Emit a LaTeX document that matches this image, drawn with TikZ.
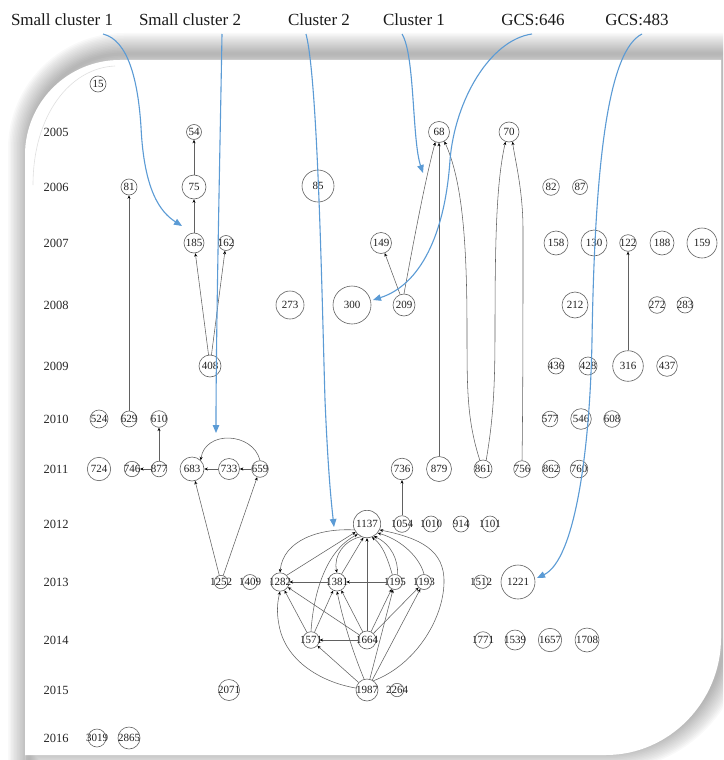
\documentclass[tikz,border=0pt]{standalone}
\usepackage{fontspec}
\setmainfont{Liberation Serif}
\usetikzlibrary{arrows.meta}
\definecolor{cblue}{RGB}{91,155,213}
\newcommand\mynode[5]{\node[nd, minimum size=#4*2pt] (#1) at (#2,#3) {\makebox[0pt]{#5}};}
\def\panelpath{(25,800) -- (25,155) .. controls (25,102.5) and (67.5,60) .. (120,60) -- (721,60) -- (721,638) .. controls (721,701.5) and (669.5,755) .. (606,755) -- (25,755) -- cycle}
\begin{document}
\begin{tikzpicture}[x=1pt,y=-1pt,
  nd/.style={circle, draw=black!62, line width=0.6pt, inner sep=0pt, text=black!88, font=\fontsize{11}{11}\selectfont},
  yr/.style={font=\fontsize{12.5}{12.5}\selectfont, text=black!85, inner sep=0pt},
  lab/.style={font=\fontsize{17}{17}\selectfont, text=black!90, inner sep=0pt},
  e/.style={draw=black!62, line width=0.55pt, -{Stealth[length=3.5pt,width=3pt,black]}},
  bl/.style={draw=cblue, line width=1.1pt, -{Triangle[length=8pt,width=6.5pt]}}]
\useasboundingbox (0,0) rectangle (723,760);
\clip (0,0) rectangle (723,760);
% panel with shadow
\foreach \i in {1,...,14} {
  \draw[black, opacity=0.024, line width=\i*3pt, line join=round, shift={(4,-6)}] \panelpath;
}
\fill[white] \panelpath;
\draw[black!12, line width=0.6pt] (33,185) .. controls (33,115) and (70,68) .. (115,66);

% top labels
\node[lab] (l1) at (62,20) {Small cluster 1};
\node[lab] (l2) at (190,20) {Small cluster 2};
\node[lab] (l3) at (319,20) {Cluster 2};
\node[lab] (l4) at (414,20) {Cluster 1};
\node[lab] (l5) at (533,20) {GCS:646};
\node[lab] (l6) at (637,20) {GCS:483};

% years
\foreach \yy/\py in {2005/132,2006/187,2007/243,2008/305,2009/366,2010/419,2011/469,2012/524,2013/582,2014/640,2015/690,2016/738}
  \node[yr] (y\yy) at (56,\py) {\yy};

% nodes
\mynode{n15}{98}{84}{8}{15}
\mynode{n54}{194}{132}{7.5}{54}
\mynode{n68}{439}{132}{10.5}{68}
\mynode{n70}{509}{132}{10}{70}
\mynode{n81}{129}{187}{8}{81}
\mynode{n75}{194}{187}{12}{75}
\mynode{n85}{318}{186}{16}{85}
\mynode{n82}{551}{187}{8.3}{82}
\mynode{n87}{580}{187}{7.5}{87}
\mynode{n185}{194}{243}{10}{185}
\mynode{n162}{226}{243}{7.5}{162}
\mynode{n149}{381}{243}{10.5}{149}
\mynode{n158}{556}{243}{12}{158}
\mynode{n130}{594}{243}{13}{130}
\mynode{n122}{628}{243}{8.3}{122}
\mynode{n188}{662}{243}{12}{188}
\mynode{n159}{702}{243}{15}{159}
\mynode{n273}{290}{305}{14}{273}
\mynode{n300}{352}{305}{19}{300}
\mynode{n209}{404}{305}{11}{209}
\mynode{n212}{575}{305}{13}{212}
\mynode{n272}{657}{305}{8.3}{272}
\mynode{n283}{685}{305}{8}{283}
\mynode{n408}{210}{366}{11}{408}
\mynode{n436}{556}{366}{8}{436}
\mynode{n428}{588}{366}{9}{428}
\mynode{n316}{628}{366}{15.3}{316}
\mynode{n437}{667}{366}{10.3}{437}
\mynode{n524}{99}{419}{9}{524}
\mynode{n629}{129}{419}{8}{629}
\mynode{n610}{159}{419}{8.3}{610}
\mynode{n577}{550}{419}{7.8}{577}
\mynode{n546}{581}{419}{10.3}{546}
\mynode{n608}{612}{419}{8.3}{608}
\mynode{n724}{99}{469}{11.7}{724}
\mynode{n746}{132}{469}{7.7}{746}
\mynode{n877}{159}{469}{7.8}{877}
\mynode{n683}{192}{469}{12}{683}
\mynode{n733}{229}{469}{10.5}{733}
\mynode{n659}{260}{469}{8.3}{659}
\mynode{n736}{402}{469}{10.8}{736}
\mynode{n879}{439}{469}{12.5}{879}
\mynode{n861}{483}{469}{9}{861}
\mynode{n756}{522}{469}{8.3}{756}
\mynode{n862}{551}{469}{8.8}{862}
\mynode{n760}{579}{469}{8.8}{760}
\mynode{n1137}{367}{524}{13.7}{1137}
\mynode{n1054}{402}{524}{8.3}{1054}
\mynode{n1010}{431}{524}{8}{1010}
\mynode{n914}{461}{524}{8}{914}
\mynode{n1101}{490}{524}{8}{1101}
\mynode{n1252}{221}{582}{6.7}{1252}
\mynode{n1409}{250}{582}{7.5}{1409}
\mynode{n1282}{280}{582}{9.2}{1282}
\mynode{n1381}{337}{582}{9}{1381}
\mynode{n1195}{395}{582}{7.5}{1195}
\mynode{n1193}{424}{582}{7.5}{1193}
\mynode{n1512}{481}{582}{7}{1512}
\mynode{n1221}{518}{582}{17}{1221}
\mynode{n1571}{311}{640}{8.3}{1571}
\mynode{n1664}{367}{640}{9}{1664}
\mynode{n1771}{483}{640}{8.3}{1771}
\mynode{n1539}{515}{640}{10}{1539}
\mynode{n1657}{550}{640}{11.7}{1657}
\mynode{n1708}{587}{640}{12}{1708}
\mynode{n2071}{229}{690}{10.5}{2071}
\mynode{n1987}{367}{690}{11}{1987}
\mynode{n2264}{397}{690}{6.7}{2264}
\mynode{n3019}{97}{738}{9}{3019}
\mynode{n2865}{129}{738}{11}{2865}

% small edges
\draw[e] (n75) -- (n54);
\draw[e] (n185) -- (n75);
\draw[e] (n408) -- (n185);
\draw[e] (n408) -- (n162);
\draw[e] (n629) -- (n81);
\draw[e] (n877) -- (n610);
\draw[e] (n877) -- (n746);
\draw[e] (n733) -- (n683);
\draw[e] (n659) -- (n733);
\draw[e] (n659.north) .. controls (253,432) and (205,430) .. (n683.north east);
\draw[e] (n1252) -- (n683);
\draw[e] (n1252) -- (n659);
\draw[e] (n209) -- (n149);
\draw[e] (n209.north) .. controls (412,250) and (425,180) .. (n68.250);
\draw[e] (n879) -- (n68);
\draw[e] (n861.110) .. controls (467,420) and (467,390) .. (467,330) .. controls (467,240) and (462,180) .. (n68.300);
\draw[e] (n861.70) .. controls (493,420) and (495,390) .. (495,330) .. controls (495,230) and (497,180) .. (n70.250);
\draw[e] (n756.north) .. controls (523,400) and (523,300) .. (523,230) .. controls (523,190) and (515,160) .. (n70.290);
\draw[e] (n316) -- (n122);
\draw[e] (n1054) -- (n736);

% cluster 2
\draw[e] (n1137.205) .. controls (320,528) and (283,540) .. (n1282.north);
\draw[e] (n1282.45) -- (n1137.215);
\draw[e] (n1571.north) .. controls (314,585) and (330,548) .. (n1137.228);
\draw[e] (n1137.245) .. controls (345,540) and (333,555) .. (n1381.north);
\draw[e] (n1381.60) -- (n1137.255);
\draw[e] (n1664) -- (n1137);
\draw[e] (n1195.110) .. controls (388,560) and (383,545) .. (n1137.290);
\draw[e] (n1195.70) .. controls (398,560) and (392,545) .. (n1137.300);
\draw[e] (n1193.north) .. controls (420,558) and (402,540) .. (n1137.320);
\draw[e] (n1987.55) .. controls (415,665) and (443,620) .. (444,583) .. controls (445,550) and (420,538) .. (n1137.335);
\draw[e] (n1987.170) .. controls (320,682) and (285,660) .. (279,625) .. controls (276,610) and (278,600) .. (n1282.south);
\draw[e] (n1571) -- (n1282);
\draw[e] (n1664) -- (n1282);
\draw[e] (n1571) -- (n1381);
\draw[e] (n1664) -- (n1381);
\draw[e] (n1664) -- (n1195);
\draw[e] (n1664) -- (n1193);
\draw[e] (n1664) -- (n1571);
\draw[e] (n1987) -- (n1571);
\draw[e] (n1987.105) .. controls (352,650) and (343,620) .. (n1381.south);
\draw[e] (n1987) -- (n1195);
\draw[e] (n1987) -- (n1193);
\draw[e] (n1195) -- (n1381);
\draw[e] (n1381) -- (n1282);

% blue pointers
\coordinate (s1) at (103,34); \coordinate (t1) at (182,226);
\coordinate (s2) at (222,34); \coordinate (t2) at (216,433);
\coordinate (s3) at (306,34); \coordinate (t3) at (334,527);
\coordinate (s4) at (402,34); \coordinate (t4) at (423,173);
\coordinate (s5) at (532,34); \coordinate (t5) at (373,300);
\coordinate (s6) at (642,34); \coordinate (t6) at (537,578);
\draw[bl] (s1) .. controls (128,40) and (138,80) .. (141,127) .. controls (144,190) and (160,212) .. (t1);
\draw[bl] (s2) .. controls (220,150) and (216,330) .. (t2);
\draw[bl] (s3) .. controls (318,80) and (322,300) .. (325,400) .. controls (328,470) and (331,500) .. (t3);
\draw[bl] (s4) .. controls (415,55) and (412,140) .. (t4);
\draw[bl] (s5) .. controls (490,40) and (455,100) .. (450,160) .. controls (445,235) and (420,285) .. (t5);
\draw[bl] (s6) .. controls (610,50) and (595,150) .. (592,340) .. controls (590,450) and (575,560) .. (t6);
\end{tikzpicture}
\end{document}
